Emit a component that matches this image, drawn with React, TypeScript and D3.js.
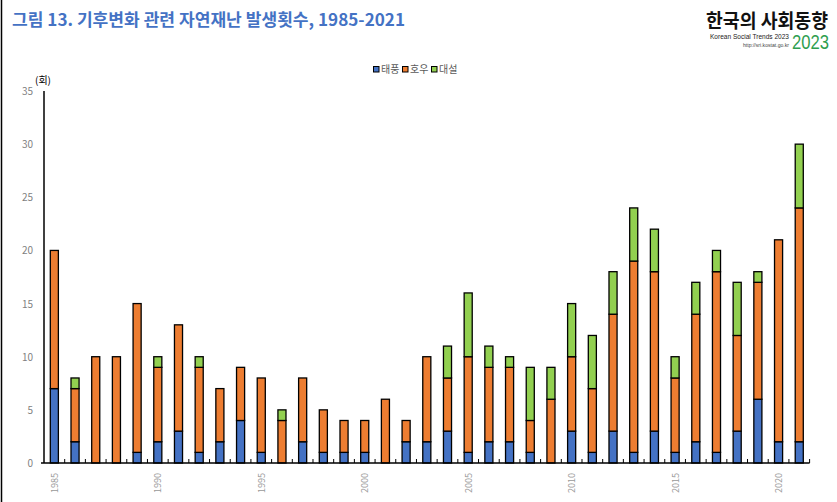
import React from "react";
import * as d3 from "d3";

const years = d3.range(1985, 2022).map(String);
const typhoon = [7, 2, 0, 0, 1, 2, 3, 1, 2, 4, 1, 0, 2, 1, 1, 1, 0, 2, 2, 3, 1, 2, 2, 1, 0, 3, 1, 3, 1, 3, 1, 2, 1, 3, 6, 2, 2];
const heavyRain = [13, 5, 10, 10, 14, 7, 10, 8, 5, 5, 7, 4, 6, 4, 3, 3, 6, 2, 8, 5, 9, 7, 7, 3, 6, 7, 6, 11, 18, 15, 7, 12, 17, 9, 11, 19, 22];
const heavySnow = [0, 1, 0, 0, 0, 1, 0, 1, 0, 0, 0, 1, 0, 0, 0, 0, 0, 0, 0, 3, 6, 2, 1, 5, 3, 5, 5, 4, 5, 4, 2, 3, 2, 5, 1, 0, 6];
const seriesNames = ["태풍", "호우", "대설"];
const seriesColors = ["#4472C4", "#ED7D31", "#92D050"];
const yTicks = [0, 5, 10, 15, 20, 25, 30, 35];
const xLabelYears = ["1985", "1990", "1995", "2000", "2005", "2010", "2015", "2020"];

const W = 837;
const H = 502;
const FONT = "'Noto Sans CJK KR', 'Noto Sans', sans-serif";

export default function App() {
  const x = d3.scaleBand<string>().domain(years).range([44, 809.6]).paddingInner(0.61).paddingOuter(0.305);
  const y = d3.scaleLinear().domain([0, 35]).range([463, 91]);

  const table = years.map((yr, i) => ({ year: yr, t: typhoon[i], r: heavyRain[i], s: heavySnow[i] }));
  const stack = d3.stack<any>().keys(["t", "r", "s"])(table);

  const step = x.step();
  const bw = x.bandwidth();

  return (
    <svg width={W} height={H} style={{ position: "absolute", left: 0, top: 0, background: "#fff" }} fontFamily={FONT}>
      <rect x={0} y={0} width={W} height={H} fill="#fff" />
      <line x1={1.5} y1={0} x2={1.5} y2={H} stroke="#000" strokeWidth={1.5} />

      {/* Title */}
      <text x={12} y={26} fontSize={16.5} fontWeight={700} fill="#4472C4" textLength={393} lengthAdjust="spacingAndGlyphs">
        그림 13. 기후변화 관련 자연재난 발생횟수, 1985-2021
      </text>

      {/* Logo */}
      <text x={706} y={28} fontSize={19.5} fontWeight={700} fill="#111" textLength={122} lengthAdjust="spacingAndGlyphs">
        한국의 사회동향
      </text>
      <text x={710} y={39} fontSize={7} fill="#222" textLength={79} lengthAdjust="spacingAndGlyphs" fontFamily="'Liberation Sans', sans-serif">
        Korean Social Trends 2023
      </text>
      <text x={743} y={46.5} fontSize={4.5} fill="#444" textLength={46} lengthAdjust="spacingAndGlyphs" fontFamily="'Liberation Sans', sans-serif">
        http://sri.kostat.go.kr
      </text>
      <text x={792} y={49} fontSize={21} fill="#2E9E4F" textLength={37} lengthAdjust="spacingAndGlyphs" fontFamily="'Liberation Sans Narrow', 'Liberation Sans', sans-serif">
        2023
      </text>

      {/* Legend */}
      {seriesNames.map((n, i) => {
        const lx = [373.5, 402.5, 431.5][i];
        return (
          <g key={n}>
            <rect x={lx} y={66.5} width={5.5} height={5.5} fill={seriesColors[i]} stroke="#000" strokeWidth={1} />
            <text x={lx + 7.5} y={73} fontSize={10} fill="#595959">
              {n}
            </text>
          </g>
        );
      })}

      {/* Unit */}
      <text x={35} y={84} fontSize={10} fill="#000">
        (회)
      </text>

      {/* Y axis labels */}
      {yTicks.map((t) => (
        <text key={t} x={33} y={y(t) + 4} fontSize={10} fill="#7F7F7F" textAnchor="end">
          {t}
        </text>
      ))}

      {/* Bars */}
      {stack.map((layer, li) =>
        layer.map((d, i) => {
          const y0 = y(d[0]);
          const y1 = y(d[1]);
          return (
            <rect
              key={`${li}-${i}`}
              x={(x(years[i]) as number)}
              y={y1}
              width={bw}
              height={Math.max(0, y0 - y1)}
              fill={seriesColors[li]}
              stroke="#000"
              strokeWidth={1.3}
            />
          );
        })
      )}

      {/* Axes */}
      <line x1={44} y1={91} x2={44} y2={463} stroke="#000" strokeWidth={1.5} />
      <line x1={41} y1={463} x2={809.6} y2={463} stroke="#000" strokeWidth={1.5} />
      {years.map((yr, i) => (
        <line key={yr} x1={44 + step * (i + 1)} x2={44 + step * (i + 1)} y1={463} y2={459} stroke="#000" strokeWidth={1} />
      ))}

      {/* X labels */}
      {xLabelYears.map((yr) => {
        const cx = (x(yr) as number) + bw / 2;
        return (
          <text key={yr} transform={`translate(${cx + 3.5},473) rotate(-90)`} fontSize={9} fill="#999999" textAnchor="end">
            {yr}
          </text>
        );
      })}
    </svg>
  );
}
